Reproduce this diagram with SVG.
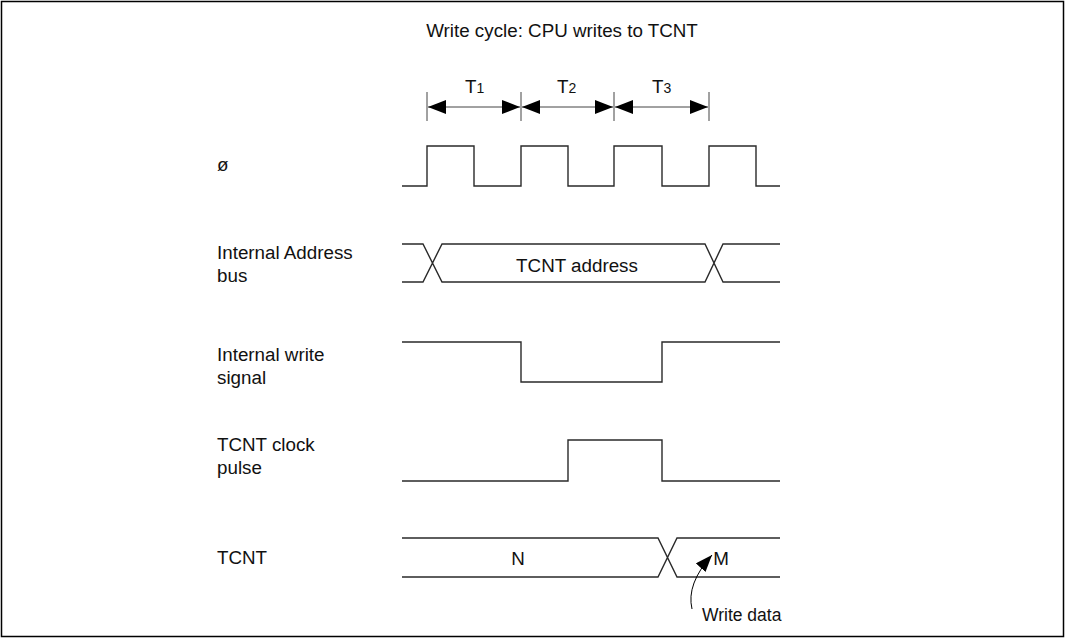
<svg xmlns="http://www.w3.org/2000/svg" width="1066" height="640" viewBox="0 0 1066 640">
<style>
text{font-family:"Liberation Sans",Arial,sans-serif;font-size:18.8px;fill:#111}
.w{fill:none;stroke:#2a2a2a;stroke-width:1.4}
.t{fill:none;stroke:#444;stroke-width:1}
.c{text-anchor:middle}
.sub{font-size:14px}
</style>
<defs>
<marker id="ah" viewBox="0 0 18 14" refX="18" refY="7" markerWidth="18" markerHeight="14" markerUnits="userSpaceOnUse" orient="auto-start-reverse">
<path d="M0,0 L18,7 L0,14 Z" fill="#000"/>
</marker>
<marker id="ah2" viewBox="0 0 17 13" refX="17" refY="6.5" markerWidth="17" markerHeight="13" markerUnits="userSpaceOnUse" orient="auto">
<path d="M0,0 L17,6.5 L0,13 Z" fill="#000"/>
</marker>
</defs>
<rect x="1.5" y="1.5" width="1062" height="635" fill="#fff" stroke="#000" stroke-width="1.5"/>
<text class="c" x="562" y="37">Write cycle: CPU writes to TCNT</text>

<g id="labels">
<text x="217" y="171">ø</text>
<text x="217" y="259">Internal Address</text>
<text x="217" y="282">bus</text>
<text x="217" y="361">Internal write</text>
<text x="217" y="384">signal</text>
<text x="217" y="451">TCNT clock</text>
<text x="217" y="474">pulse</text>
<text x="217" y="564">TCNT</text>
</g>

<g id="timing">
<path class="t" d="M427,92V121 M521,92V121 M614,92V121 M709,92V121"/>
<path class="t" d="M428,107H520" marker-start="url(#ah)" marker-end="url(#ah)"/>
<path class="t" d="M522,107H613" marker-start="url(#ah)" marker-end="url(#ah)"/>
<path class="t" d="M615,107H708" marker-start="url(#ah)" marker-end="url(#ah)"/>
<text x="465" y="93">T<tspan class="sub">1</tspan></text>
<text x="557" y="93">T<tspan class="sub">2</tspan></text>
<text x="652" y="93">T<tspan class="sub">3</tspan></text>
</g>

<g id="clock">
<path class="w" d="M402,186H427V146H474V186H521V146H568V186H614V146H662V186H709V146H756V186H780"/>
</g>

<g id="address">
<path class="w" d="M402,244H423L442,282H705L723,244H780 M402,282H423L442,244H705L723,282H780"/>
<text class="c" x="577" y="272">TCNT address</text>
</g>

<g id="write">
<path class="w" d="M402,342H521V382H662V342H780"/>
</g>

<g id="clockpulse">
<path class="w" d="M402,481H568V440H662V481H780"/>
</g>

<g id="tcnt">
<path class="w" d="M402,538H658L677,577H780 M402,577H658L677,538H780"/>
<text class="c" x="518" y="565">N</text>
<text class="c" x="721" y="565">M</text>
</g>

<g id="writedata">
<path fill="none" stroke="#000" stroke-width="1" d="M692,609 Q686,584 712,555" marker-end="url(#ah2)"/>
<text x="702" y="621" style="font-size:17.5px">Write data</text>
</g>
</svg>
